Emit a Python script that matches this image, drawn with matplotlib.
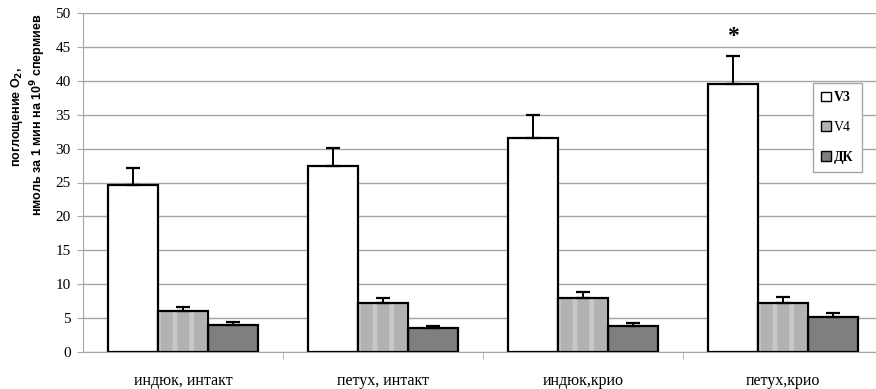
import matplotlib.pyplot as plt
import numpy as np
from matplotlib.patches import Patch

# data
categories = ['индюк, интакт', 'петух, интакт', 'индюк,крио', 'петух,крио']
v3 = [24.6, 27.4, 31.6, 39.6]
v3_err = [2.5, 2.7, 3.3, 4.0]
v4 = [6.1, 7.3, 8.0, 7.3]
v4_err = [0.5, 0.7, 0.8, 0.8]
dk = [4.0, 3.5, 3.9, 5.2]
dk_err = [0.4, 0.3, 0.4, 0.5]

serif = 'Liberation Serif'
sans = 'Liberation Sans'
plt.rcParams['mathtext.default'] = 'bf'
plt.rcParams['hatch.linewidth'] = 3.5

fig = plt.figure(figsize=(8.76, 3.89), dpi=100)
ax = fig.add_axes([83/876, 1 - 352/389, 800/876, 339/389])

x = np.arange(len(categories))
w = 0.25
grid_c = '#a6a6a6'

# V3 - white bars
ax.bar(x - w, v3, w, color='white', edgecolor='black', linewidth=1.6, zorder=3)
# V4 - light grey with soft vertical stripes
ax.bar(x, v4, w, color='#b2b2b2', edgecolor='#c8c8c8', hatch='|', linewidth=0, zorder=3)
ax.bar(x, v4, w, fill=False, edgecolor='black', linewidth=1.6, zorder=4)
# ДК - dark grey
ax.bar(x + w, dk, w, color='#7f7f7f', edgecolor='black', linewidth=1.6, zorder=3)

# upper error bars only
for off, vals, errs in [(-w, v3, v3_err), (0, v4, v4_err), (w, dk, dk_err)]:
    ax.errorbar(x + off, vals, yerr=[np.zeros(len(errs)), errs], fmt='none',
                ecolor='black', elinewidth=1.4, capsize=5, capthick=1.6, zorder=5)

# significance mark
ax.text(x[3] - w, v3[3] + v3_err[3] + 2.9, '*', ha='center', va='center',
        fontsize=17, fontweight='bold', family=serif)

ax.set_xlim(-0.5, 3.5)
ax.set_ylim(0, 50)
ax.set_yticks(np.arange(0, 51, 5))
ax.yaxis.grid(True, color=grid_c, linewidth=1.0)
ax.set_axisbelow(True)

ax.set_xticks(x)
ax.set_xticklabels(categories, family=serif, fontsize=11.5)
ax.set_xticks([0.5, 1.5, 2.5], minor=True)
ax.tick_params(axis='x', which='major', length=0, pad=15)
ax.tick_params(axis='x', which='minor', length=5, color=grid_c, direction='out')
ax.tick_params(axis='y', length=4, color=grid_c, labelsize=11, pad=5)
for lab in ax.get_yticklabels():
    lab.set_family(serif)

for s in ['top', 'right']:
    ax.spines[s].set_visible(False)
ax.spines['left'].set_color(grid_c)
ax.spines['bottom'].set_color(grid_c)

# y label, two lines
fig.text(17/876, 1 - 117/389, 'поглощение O$_2$,', rotation=90, ha='center', va='center',
         family=sans, fontweight='bold', fontsize=9)
fig.text(38/876, 1 - 115/389, 'нмоль за 1 мин на 10$^9$ спермиев', rotation=90,
         ha='center', va='center', family=sans, fontweight='bold', fontsize=9)

handles = [Patch(facecolor='white', edgecolor='black'),
           Patch(facecolor='#b4b4b4', edgecolor='black'),
           Patch(facecolor='#7f7f7f', edgecolor='black')]
leg = fig.legend(handles, ['V3', 'V4', 'ДК'], loc='upper left',
                 bbox_to_anchor=(806/876, 1 - 76/389), prop={'family': serif, 'size': 10},
                 handlelength=0.7, handleheight=0.7, handletextpad=0.2,
                 labelspacing=1.2, borderpad=0.6, fancybox=False, framealpha=1,
                 edgecolor=grid_c)
leg.get_frame().set_linewidth(1.0)
for i, t in enumerate(leg.get_texts()):
    if i != 1:
        t.set_fontweight('bold')

fig.savefig('out.png', dpi=100)
